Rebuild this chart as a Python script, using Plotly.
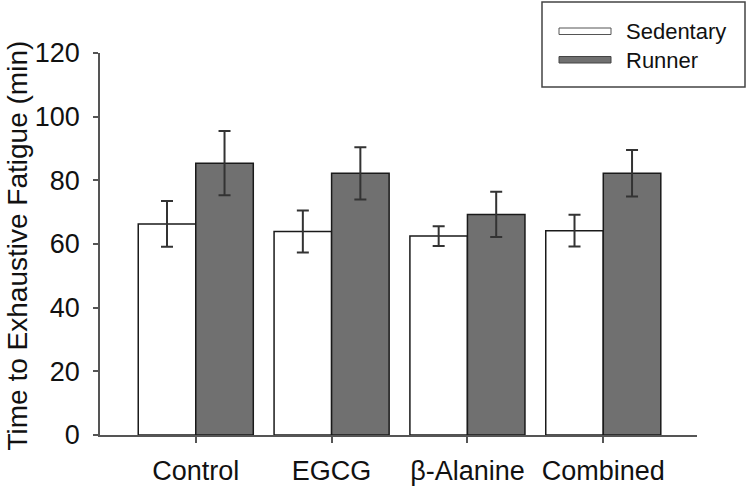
import plotly.graph_objects as go

categories = ["Control", "EGCG", "β-Alanine", "Combined"]
sedentary = [66.3, 63.9, 62.5, 64.2]
sedentary_err = [7.2, 6.6, 3.1, 5.0]
runner = [85.4, 82.2, 69.3, 82.2]
runner_err = [10.1, 8.2, 7.1, 7.3]
series_names = ["Sedentary", "Runner"]
y_ticks = [0, 20, 40, 60, 80, 100, 120]
y_title = "Time to Exhaustive Fatigue (min)"

W, H = 750, 492
L, R, T, B = 100, 53, 53, 57
pw, ph = W - L - R, H - T - B

def px_x(x):
    return (x - L) / pw

def px_y(y):
    return (H - B - y) / ph

font = "Liberation Sans, Arial, sans-serif"
runner_fill = "#707070"

fig = go.Figure()
fig.add_trace(go.Bar(
    x=categories, y=sedentary, name=series_names[0],
    marker=dict(color="white", line=dict(color="#1a1a1a", width=1.5)),
    error_y=dict(type="data", array=sedentary_err, color="#333333", thickness=2, width=6),
    offsetgroup=0, showlegend=False,
))
fig.add_trace(go.Bar(
    x=categories, y=runner, name=series_names[1],
    marker=dict(color=runner_fill, line=dict(color="#1a1a1a", width=1.5)),
    error_y=dict(type="data", array=runner_err, color="#333333", thickness=2, width=6),
    offsetgroup=1, showlegend=False,
))

# manual legend box
shapes = [
    dict(type="rect", xref="paper", yref="paper",
         x0=px_x(542), x1=px_x(745), y0=px_y(87), y1=px_y(2),
         line=dict(color="#444444", width=1.5), fillcolor="white", layer="above"),
    dict(type="rect", xref="paper", yref="paper",
         x0=px_x(559), x1=px_x(611), y0=px_y(34.5), y1=px_y(28),
         line=dict(color="#555555", width=1), fillcolor="white", layer="above"),
    dict(type="rect", xref="paper", yref="paper",
         x0=px_x(559), x1=px_x(611), y0=px_y(63), y1=px_y(56.5),
         line=dict(color="#444444", width=1), fillcolor=runner_fill, layer="above"),
]
annotations = [
    dict(text=series_names[0], xref="paper", yref="paper", x=px_x(624), y=px_y(31),
         xanchor="left", yanchor="middle", showarrow=False,
         font=dict(family=font, size=22, color="#111111")),
    dict(text=series_names[1], xref="paper", yref="paper", x=px_x(624), y=px_y(60),
         xanchor="left", yanchor="middle", showarrow=False,
         font=dict(family=font, size=22, color="#111111")),
    dict(text=y_title, xref="paper", yref="paper", x=px_x(0), y=px_y(246),
         xanchor="left", yanchor="middle", textangle=-90, showarrow=False,
         font=dict(family=font, size=28, color="#111111")),
]

fig.update_layout(
    width=W, height=H,
    margin=dict(l=L, r=R, t=T, b=B, pad=0),
    paper_bgcolor="white", plot_bgcolor="white",
    barmode="group", bargap=0.153, bargroupgap=0,
    font=dict(family=font, color="#111111"),
    shapes=shapes, annotations=annotations,
    xaxis=dict(
        range=[-0.705, 3.69], showgrid=False, zeroline=False, automargin=False,
        showline=True, linecolor="#555555", linewidth=1.5,
        ticks="outside", ticklen=6, tickcolor="#555555", tickwidth=1.5,
        tickfont=dict(size=27, family=font, color="#111111"),
        ticklabelstandoff=5,
    ),
    yaxis=dict(
        range=[0, 120], tickvals=y_ticks, showgrid=False, zeroline=False, automargin=False,
        showline=True, linecolor="#555555", linewidth=1.5,
        ticks="outside", ticklen=5, tickcolor="#555555", tickwidth=1.5,
        tickfont=dict(size=27, family=font, color="#111111"),
        ticklabelstandoff=8,
    ),
)

fig.write_html("out.html", config={"displayModeBar": False},
               post_script="document.body.style.margin='0';")
